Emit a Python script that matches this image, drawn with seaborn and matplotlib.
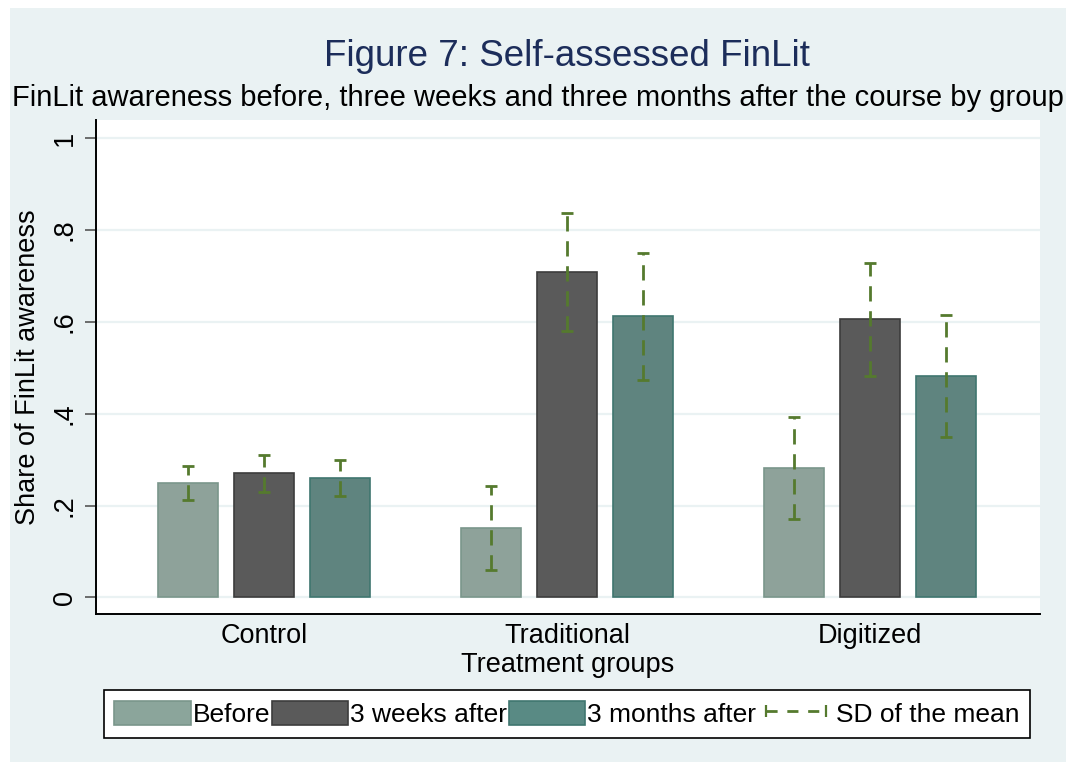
import matplotlib
matplotlib.use("Agg")
import matplotlib.pyplot as plt
from matplotlib.patches import Rectangle, Patch
from matplotlib.lines import Line2D
from matplotlib.container import BarContainer
import numpy as np
import pandas as pd
import seaborn as sns

# Data
groups = ["Control", "Traditional", "Digitized"]
periods = ["Before", "3 weeks after", "3 months after"]
mean_before = [0.25, 0.151, 0.281]
mean_3weeks = [0.270, 0.708, 0.605]
mean_3months = [0.260, 0.612, 0.482]
sd_before = [0.037, 0.092, 0.111]
sd_3weeks = [0.041, 0.129, 0.123]
sd_3months = [0.040, 0.138, 0.133]
y_ticks = [0, 0.2, 0.4, 0.6, 0.8, 1.0]
y_ticklabels = ["0", ".2", ".4", ".6", ".8", "1"]

means = [mean_before, mean_3weeks, mean_3months]
sds = [sd_before, sd_3weeks, sd_3months]

df = pd.DataFrame(
    [{"group": g, "period": p, "share": means[j][i], "sd": sds[j][i]}
     for i, g in enumerate(groups) for j, p in enumerate(periods)]
)

fill_colors = ["#8BA59B", "#5A5A5A", "#598A84"]
edge_colors = ["#7A968B", "#3C3C3C", "#3F766F"]
err_color = "#557A2E"
bg = "#EAF2F3"

sns.set_theme(style="white")
plt.rcParams["font.family"] = ["Liberation Sans", "DejaVu Sans"]

W, H = 1074, 770
fig = plt.figure(figsize=(W / 100, H / 100), dpi=100)
fig.patch.set_facecolor("white")
fig.add_artist(Rectangle((10 / W, 8 / H), 1056 / W, 754 / H, transform=fig.transFigure,
                         facecolor=bg, edgecolor="none", zorder=-10))

ax = fig.add_axes([96 / W, (H - 614) / H, (1040 - 96) / W, (614 - 120) / H])
ax.set_facecolor("white")

sns.barplot(data=df, x="group", y="share", hue="period", order=groups, hue_order=periods,
            palette=fill_colors, width=0.753, gap=0.21, errorbar=None, legend=False,
            linewidth=1.2, ax=ax, zorder=3)

# edge colours per series and dashed SD bars
bar_containers = [c for c in ax.containers if isinstance(c, BarContainer)]
for j, cont in enumerate(bar_containers):
    xs, ys, es = [], [], []
    for i, bar in enumerate(cont.patches):
        bar.set_edgecolor(edge_colors[j])
        xs.append(bar.get_x() + bar.get_width() / 2)
        ys.append(means[j][i])
        es.append(sds[j][i])
    eb = ax.errorbar(xs, ys, yerr=es, fmt="none", ecolor=err_color, elinewidth=2.0,
                     capsize=4.3, capthick=2.0, zorder=5)
    eb[2][0].set_linestyle((0, (5.5, 3.5)))

ax.set_xlim(-0.554, 2.561)
ax.set_ylim(-0.036, 1.039)
ax.set_yticks(y_ticks)
ax.set_yticklabels(y_ticklabels, rotation=90, va="center", fontsize=19.5)
ax.tick_params(axis="y", which="major", left=True, length=8, width=1.2, color="#555555", pad=5)
ax.tick_params(axis="x", bottom=False, labelsize=19.5, pad=0.5)
for t in ax.get_xticklabels():
    t.set_color("black")
for t in ax.get_yticklabels():
    t.set_color("black")

ax.grid(axis="y", color=bg, linewidth=1.6, zorder=0)
ax.set_axisbelow(True)
for s in ["top", "right"]:
    ax.spines[s].set_visible(False)
for s in ["left", "bottom"]:
    ax.spines[s].set_color("black")
    ax.spines[s].set_linewidth(1.4)

ax.set_xlabel("Treatment groups", fontsize=19.5, color="black", labelpad=2)
ax.set_ylabel("Share of FinLit awareness", fontsize=19.5, color="black", labelpad=8)

fig.text(567 / W, 1 - 57 / H, "Figure 7: Self-assessed FinLit", ha="center", va="center",
         fontsize=26.5, color="#1C2D5A")
fig.text(12 / W, 1 - 98 / H,
         "FinLit awareness before, three weeks and three months after the course by group",
         ha="left", va="center", fontsize=21, color="black")

handles = [Patch(facecolor=fill_colors[k], edgecolor=edge_colors[k], linewidth=1.2)
           for k in range(3)]
handles.append(Line2D([0, 1], [0, 0], color=err_color, linewidth=2.0,
                      linestyle=(0, (4, 3.5)), marker="|", markersize=8,
                      markeredgewidth=1.6))
labels = periods + ["SD of the mean"]
leg = fig.legend(handles, labels, loc="center", bbox_to_anchor=(567 / W, 1 - 714 / H),
                 ncol=4, fontsize=19, labelcolor="black", frameon=True, fancybox=False,
                 edgecolor="black", facecolor="white", framealpha=1, handlelength=2.9,
                 handleheight=1.05, handletextpad=0.08, columnspacing=0.05, borderpad=0.4,
                 numpoints=2, borderaxespad=0)
leg.get_frame().set_linewidth(1.2)

fig.savefig("out.png", dpi=100, facecolor=fig.get_facecolor())
